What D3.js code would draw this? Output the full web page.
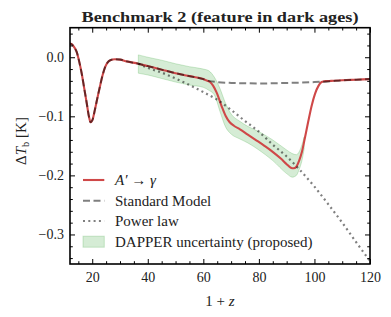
<!DOCTYPE html>
<html>
<head>
<meta charset="utf-8">
<script src="https://cdn.jsdelivr.net/npm/d3@7"></script>
<style>
  html, body { margin: 0; padding: 0; background: #fff; }
  svg { display: block; font-family: "Liberation Serif", "Times New Roman", serif; }
</style>
</head>
<body>
<svg id="chart" width="391" height="317"></svg>
<script>
// ---- data ----
const smZ   = [11, 12, 12.6, 13.5, 14.4, 15.3, 16.2, 17.1, 18, 18.8, 19.4, 20.1, 21, 21.9, 22.8, 23.7, 24.6, 25.5, 26.5, 28.2, 30, 32.4, 36.6, 40, 45, 50, 55, 60, 62, 65, 70, 75, 80, 85, 90, 95, 100, 105, 110, 115, 120];
const smT   = [0.023, 0.023, 0.022, 0.017, 0.009, -0.007, -0.027, -0.052, -0.077, -0.100, -0.110, -0.106, -0.088, -0.068, -0.049, -0.031, -0.017, -0.009, -0.005, -0.0035, -0.004, -0.007, -0.011, -0.015, -0.021, -0.027, -0.032, -0.037, -0.040, -0.042, -0.0435, -0.044, -0.0445, -0.044, -0.0435, -0.043, -0.042, -0.041, -0.039, -0.038, -0.037];

const apZ   = [11, 12, 12.6, 13.5, 14.4, 15.3, 16.2, 17.1, 18, 18.8, 19.4, 20.1, 21, 21.9, 22.8, 23.7, 24.6, 25.5, 26.5, 28.2, 30, 32.4, 36.6, 40, 45, 50, 55, 60, 61, 62.4, 63.5, 64.8, 66.6, 68, 69.5, 71, 73.2, 76, 79.2, 82, 85.2, 88, 90, 91.5, 92.5, 93.5, 94.5, 95.5, 96.5, 97.8, 99, 100.2, 101.5, 102.6, 104, 106, 110, 115, 120];
const apT   = [0.023, 0.023, 0.022, 0.017, 0.009, -0.007, -0.027, -0.052, -0.077, -0.100, -0.110, -0.106, -0.088, -0.068, -0.049, -0.031, -0.017, -0.009, -0.005, -0.0035, -0.004, -0.007, -0.011, -0.015, -0.021, -0.027, -0.032, -0.037, -0.039, -0.042, -0.048, -0.060, -0.083, -0.099, -0.110, -0.116, -0.122, -0.131, -0.141, -0.150, -0.161, -0.172, -0.181, -0.187, -0.188, -0.185, -0.175, -0.160, -0.138, -0.108, -0.082, -0.062, -0.048, -0.042, -0.0405, -0.040, -0.039, -0.038, -0.037];

const plZ   = [36.6, 40, 45, 50, 55, 60, 65, 70, 75, 80, 85, 90, 95, 100, 105, 110, 115, 120];
const plT   = [-0.011, -0.018, -0.026, -0.036, -0.047, -0.059, -0.072, -0.089, -0.108, -0.126, -0.148, -0.168, -0.192, -0.219, -0.249, -0.280, -0.313, -0.345];

const bandZ     = [36.6, 40, 45, 50, 55, 60, 62, 64, 66, 68, 70, 73, 76, 80, 85, 90, 92, 93.5, 94.5, 95.5, 96.3];
const bandUpper = [0.004, 0.000, -0.005, -0.011, -0.016, -0.020, -0.023, -0.034, -0.053, -0.078, -0.096, -0.108, -0.117, -0.126, -0.140, -0.157, -0.163, -0.165, -0.160, -0.148, -0.135];
const bandLower = [-0.027, -0.030, -0.036, -0.042, -0.047, -0.051, -0.056, -0.064, -0.092, -0.118, -0.130, -0.138, -0.145, -0.157, -0.175, -0.197, -0.203, -0.200, -0.190, -0.175, -0.155];

const xTicks = [20, 40, 60, 80, 100, 120];
const yTicks = [-0.3, -0.2, -0.1, 0.0];
const legendLabels = ["A′ → γ", "Standard Model", "Power law", "DAPPER uncertainty (proposed)"];
const titleText = "Benchmark 2 (feature in dark ages)";

// ---- layout ----
const L = 70, R = 370, T = 27.7, B = 264;
const svg = d3.select("#chart");
const x = d3.scaleLinear().domain([12, 120]).range([L, R]);
const y = d3.scaleLinear().domain([-0.35, 0.05]).range([B, T]);

const xMinor = d3.range(15, 120, 5).filter(v => v % 20 !== 0);
const yMinor = d3.range(-34, 5, 2).map(v => v / 100).filter(v => Math.abs(Math.round(v * 100)) % 10 !== 0);

svg.append("defs").append("clipPath").attr("id", "clip")
  .append("rect").attr("x", L).attr("y", T).attr("width", R - L).attr("height", B - T);

const plot = svg.append("g").attr("clip-path", "url(#clip)");

// band
const band = bandZ.map((z, i) => ({ z, lo: bandLower[i], hi: bandUpper[i] }));
plot.append("path")
  .datum(band)
  .attr("d", d3.area().x(d => x(d.z)).y0(d => y(d.lo)).y1(d => y(d.hi)).curve(d3.curveMonotoneX))
  .attr("fill", "rgba(44,160,44,0.2)")
  .attr("stroke", "rgba(44,160,44,0.22)")
  .attr("stroke-width", 1);

const line = d3.line().x(d => x(d[0])).y(d => y(d[1])).curve(d3.curveMonotoneX);

// A' -> gamma
plot.append("path")
  .datum(apZ.map((z, i) => [z, apT[i]]))
  .attr("d", line)
  .attr("fill", "none").attr("stroke", "#cf4848").attr("stroke-width", 2.1);

// Standard model
plot.append("path")
  .datum(smZ.map((z, i) => [z, smT[i]]))
  .attr("d", line)
  .attr("fill", "none").attr("stroke", "rgba(0,0,0,0.5)").attr("stroke-width", 2)
  .attr("stroke-dasharray", "7,3.5");

// Power law
plot.append("path")
  .datum(plZ.map((z, i) => [z, plT[i]]))
  .attr("d", line)
  .attr("fill", "none").attr("stroke", "rgba(0,0,0,0.5)").attr("stroke-width", 2.2)
  .attr("stroke-dasharray", "2,3.3");

// ---- axes (ticks inward on all sides) ----
function styleAxis(g) {
  g.select(".domain").remove();
  g.selectAll(".tick line").attr("stroke", "#000").attr("stroke-width", 1);
  g.selectAll("text").attr("font-family", "Liberation Serif, serif").attr("font-size", 14).attr("fill", "#222");
}
const fmt = d3.format(".1f");

svg.append("g").attr("transform", `translate(0,${B})`)
  .call(d3.axisBottom(x).tickValues(xTicks).tickSizeInner(-5).tickSizeOuter(0).tickPadding(8).tickFormat(d3.format("d")))
  .call(styleAxis);
svg.append("g").attr("transform", `translate(0,${B})`)
  .call(d3.axisBottom(x).tickValues(xMinor).tickSizeInner(-2.8).tickSizeOuter(0).tickFormat(""))
  .call(styleAxis);
svg.append("g").attr("transform", `translate(0,${T})`)
  .call(d3.axisTop(x).tickValues(xTicks).tickSizeInner(-5).tickSizeOuter(0).tickFormat(""))
  .call(styleAxis);
svg.append("g").attr("transform", `translate(0,${T})`)
  .call(d3.axisTop(x).tickValues(xMinor).tickSizeInner(-2.8).tickSizeOuter(0).tickFormat(""))
  .call(styleAxis);

svg.append("g").attr("transform", `translate(${L},0)`)
  .call(d3.axisLeft(y).tickValues(yTicks).tickSizeInner(-5).tickSizeOuter(0).tickPadding(6).tickFormat(fmt))
  .call(styleAxis);
svg.append("g").attr("transform", `translate(${L},0)`)
  .call(d3.axisLeft(y).tickValues(yMinor).tickSizeInner(-2.8).tickSizeOuter(0).tickFormat(""))
  .call(styleAxis);
svg.append("g").attr("transform", `translate(${R},0)`)
  .call(d3.axisRight(y).tickValues(yTicks).tickSizeInner(-5).tickSizeOuter(0).tickFormat(""))
  .call(styleAxis);
svg.append("g").attr("transform", `translate(${R},0)`)
  .call(d3.axisRight(y).tickValues(yMinor).tickSizeInner(-2.8).tickSizeOuter(0).tickFormat(""))
  .call(styleAxis);

// frame
svg.append("rect").attr("x", L).attr("y", T).attr("width", R - L).attr("height", B - T)
  .attr("fill", "none").attr("stroke", "#000").attr("stroke-width", 1.6);

// ---- title and labels ----
svg.append("text").attr("x", (L + R) / 2).attr("y", 21.5).attr("text-anchor", "middle")
  .attr("font-size", 15).attr("font-weight", "bold").attr("fill", "#222")
  .attr("textLength", 277).attr("lengthAdjust", "spacingAndGlyphs")
  .text(titleText);

const xl = svg.append("text").attr("x", (L + R) / 2).attr("y", 306).attr("text-anchor", "middle")
  .attr("font-size", 15).attr("fill", "#222");
xl.append("tspan").text("1 + ");
xl.append("tspan").attr("font-style", "italic").text("z");

const yl = svg.append("text").attr("transform", "translate(26,141) rotate(-90)")
  .attr("text-anchor", "middle").attr("font-size", 15).attr("fill", "#222");
yl.append("tspan").text("Δ");
yl.append("tspan").attr("font-style", "italic").text("T");
yl.append("tspan").attr("font-size", 10.5).attr("dy", 3).text("b");
yl.append("tspan").attr("dy", -3).text(" [K]");

// ---- legend ----
const legY = [180, 200.7, 221, 241.7];
const hx0 = 83, hx1 = 104.3, tx = 115;
const leg = svg.append("g");
leg.append("line").attr("x1", hx0).attr("x2", hx1).attr("y1", legY[0]).attr("y2", legY[0])
  .attr("stroke", "#cf4848").attr("stroke-width", 2.1);
leg.append("line").attr("x1", hx0).attr("x2", hx1).attr("y1", legY[1]).attr("y2", legY[1])
  .attr("stroke", "rgba(0,0,0,0.5)").attr("stroke-width", 2).attr("stroke-dasharray", "7,3.5");
leg.append("line").attr("x1", hx0).attr("x2", hx1).attr("y1", legY[2]).attr("y2", legY[2])
  .attr("stroke", "rgba(0,0,0,0.5)").attr("stroke-width", 2.2).attr("stroke-dasharray", "2,3.3");
leg.append("rect").attr("x", hx0).attr("y", legY[3] - 5.5).attr("width", hx1 - hx0).attr("height", 11)
  .attr("fill", "rgba(44,160,44,0.2)").attr("stroke", "rgba(44,160,44,0.22)").attr("stroke-width", 1);

legendLabels.forEach((lab, i) => {
  const t = leg.append("text").attr("x", tx).attr("y", legY[i]).attr("dy", "0.35em")
    .attr("font-size", 15).attr("fill", "#222");
  if (i === 0) {
    t.append("tspan").attr("font-style", "italic").text("A′");
    t.append("tspan").text(" → ");
    t.append("tspan").attr("font-style", "italic").text("γ");
  } else {
    t.text(lab);
  }
});
</script>
</body>
</html>
